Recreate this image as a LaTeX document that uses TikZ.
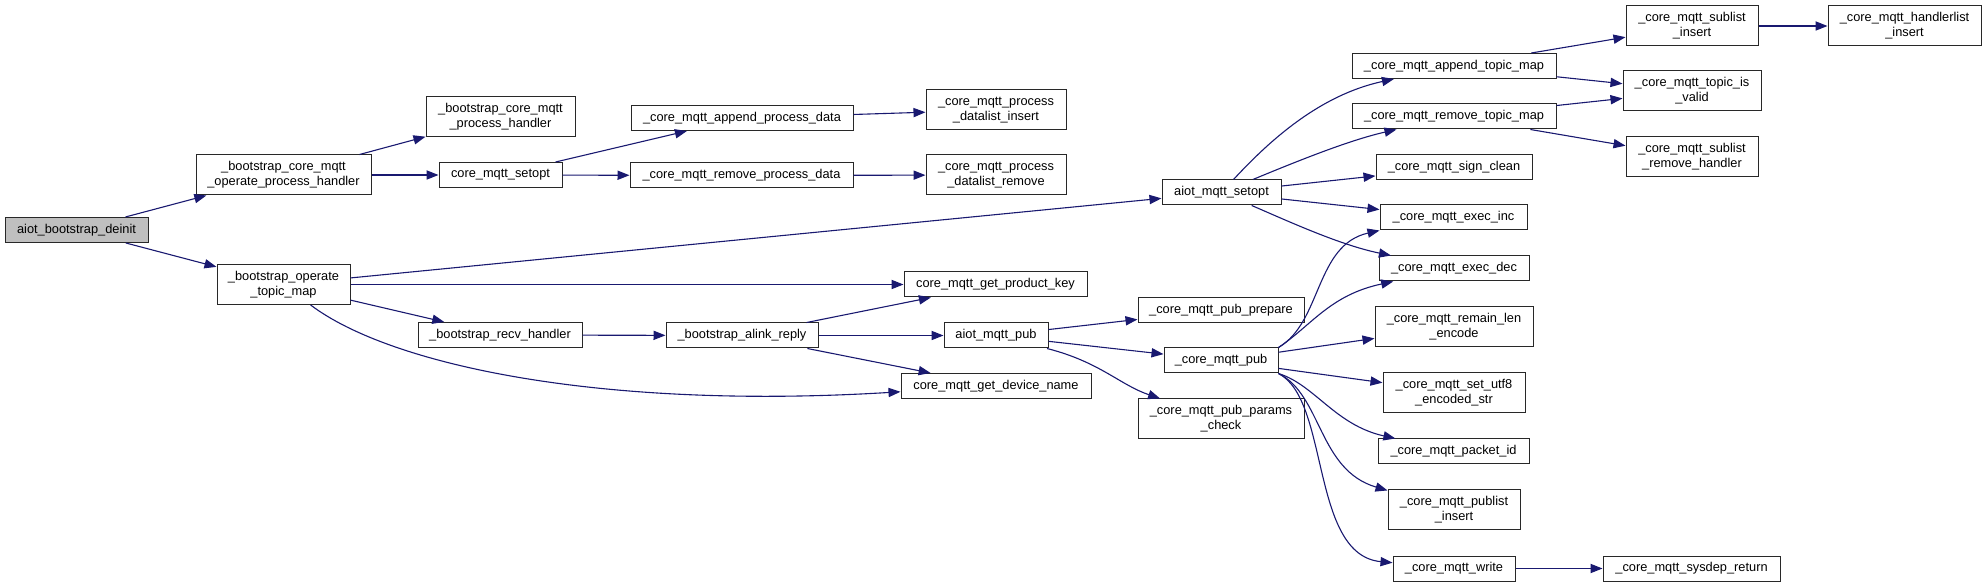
\documentclass[tikz,border=0pt]{standalone}
\usepackage{fontspec}
\setmainfont{Liberation Sans}
\usepackage{tikz}
\usetikzlibrary{arrows.meta, positioning}
\definecolor{edgeblue}{RGB}{25, 25, 112}
\definecolor{boxline}{RGB}{40, 40, 40}
\definecolor{rootgray}{RGB}{191, 191, 191}
\newcommand{\fnfont}{\fontsize{6.4}{7.5}\selectfont}

\begin{document}
\begin{tikzpicture}[x=0.5pt, y=-0.5pt,
    fnbox/.style={draw=boxline, fill=white, line width=0.5pt, inner sep=0pt,
        minimum height=12.5pt, font=\fnfont, align=center},
    fnboxtwo/.style={fnbox, minimum height=20pt},
    calledge/.style={draw=edgeblue, line width=0.55pt, -{Triangle[length=6pt, width=4.6pt]}}]
    \useasboundingbox (0, 0) rectangle (1987, 587);

    % Functions
    \node[fnbox, fill=rootgray, minimum width=71.5pt] (deinit) at (76.5, 230) {aiot\_bootstrap\_deinit};
    \node[fnboxtwo, minimum width=87.5pt] (ophandler) at (283.5, 175) {\_bootstrap\_core\_mqtt\\\_operate\_process\_handler};
    \node[fnboxtwo, minimum width=66.5pt] (optopic) at (283.5, 284.5) {\_bootstrap\_operate\\\_topic\_map};
    \node[fnboxtwo, minimum width=74.5pt] (bshandler) at (500.5, 116.5) {\_bootstrap\_core\_mqtt\\\_process\_handler};
    \node[fnbox, minimum width=61.5pt] (mqttsetopt) at (500.5, 175) {core\_mqtt\_setopt};
    \node[fnbox, minimum width=82pt] (recvhandler) at (500, 335) {\_bootstrap\_recv\_handler};
    \node[fnbox, minimum width=111pt] (appenddata) at (742, 118) {\_core\_mqtt\_append\_process\_data};
    \node[fnbox, minimum width=111.5pt] (removedata) at (741.5, 175.5) {\_core\_mqtt\_remove\_process\_data};
    \node[fnbox, minimum width=76pt] (alinkreply) at (742, 335.5) {\_bootstrap\_alink\_reply};
    \node[fnboxtwo, minimum width=70pt] (dlinsert) at (996, 110) {\_core\_mqtt\_process\\\_datalist\_insert};
    \node[fnboxtwo, minimum width=70pt] (dlremove) at (996, 175) {\_core\_mqtt\_process\\\_datalist\_remove};
    \node[fnbox, minimum width=91.5pt] (productkey) at (995.5, 284.5) {core\_mqtt\_get\_product\_key};
    \node[fnbox, minimum width=52pt] (aiotpub) at (996, 335.5) {aiot\_mqtt\_pub};
    \node[fnbox, minimum width=95pt] (devicename) at (996, 386) {core\_mqtt\_get\_device\_name};
    \node[fnbox, minimum width=59.5pt] (aiotsetopt) at (1221.5, 192.5) {aiot\_mqtt\_setopt};
    \node[fnbox, minimum width=83pt] (pubprepare) at (1221, 310) {\_core\_mqtt\_pub\_prepare};
    \node[fnbox, minimum width=57pt] (corepub) at (1221, 360.5) {\_core\_mqtt\_pub};
    \node[fnboxtwo, minimum width=83pt] (pubcheck) at (1221, 419) {\_core\_mqtt\_pub\_params\\\_check};
    \node[fnbox, minimum width=102pt] (appendtopic) at (1454, 66) {\_core\_mqtt\_append\_topic\_map};
    \node[fnbox, minimum width=102pt] (removetopic) at (1454, 116.5) {\_core\_mqtt\_remove\_topic\_map};
    \node[fnbox, minimum width=78pt] (signclean) at (1454, 167.5) {\_core\_mqtt\_sign\_clean};
    \node[fnbox, minimum width=73.5pt] (execinc) at (1453.5, 217.5) {\_core\_mqtt\_exec\_inc};
    \node[fnbox, minimum width=75pt] (execdec) at (1454, 268.5) {\_core\_mqtt\_exec\_dec};
    \node[fnboxtwo, minimum width=79pt] (remainlen) at (1454, 327) {\_core\_mqtt\_remain\_len\\\_encode};
    \node[fnboxtwo, minimum width=71pt] (setutf) at (1454, 392.5) {\_core\_mqtt\_set\_utf8\\\_encoded\_str};
    \node[fnbox, minimum width=75.5pt] (packetid) at (1453.5, 451.5) {\_core\_mqtt\_packet\_id};
    \node[fnboxtwo, minimum width=66pt] (publist) at (1454, 510) {\_core\_mqtt\_publist\\\_insert};
    \node[fnbox, minimum width=61pt] (mqttwrite) at (1454, 568.5) {\_core\_mqtt\_write};
    \node[fnbox, minimum width=88.5pt] (sysdep) at (1691.5, 568.5) {\_core\_mqtt\_sysdep\_return};
    \node[fnboxtwo, minimum width=66pt] (sublistinsert) at (1692, 26) {\_core\_mqtt\_sublist\\\_insert};
    \node[fnboxtwo, minimum width=76.5pt] (handlerinsert) at (1904.5, 26) {\_core\_mqtt\_handlerlist\\\_insert};
    \node[fnboxtwo, minimum width=69pt] (topicvalid) at (1692, 91) {\_core\_mqtt\_topic\_is\\\_valid};
    \node[fnboxtwo, minimum width=66pt] (sublistremove) at (1692, 157) {\_core\_mqtt\_sublist\\\_remove\_handler};

    % Calls, left part
    \draw[calledge] (deinit) -- (ophandler);
    \draw[calledge] (deinit) -- (optopic);
    \draw[calledge] (ophandler) -- (bshandler);
    \draw[calledge] (ophandler) -- (mqttsetopt);
    \draw[calledge] (mqttsetopt) -- (appenddata);
    \draw[calledge] (mqttsetopt) -- (removedata);
    \draw[calledge] (appenddata) -- (dlinsert);
    \draw[calledge] (removedata) -- (dlremove);
    \draw[calledge] (optopic) -- (aiotsetopt);
    \draw[calledge] (optopic) -- (productkey);
    \draw[calledge] (optopic) -- (recvhandler);
    \draw[calledge] (optopic) .. controls (390, 365) and (600, 410) .. (devicename);
    \draw[calledge] (recvhandler) -- (alinkreply);
    \draw[calledge] (alinkreply) -- (productkey);
    \draw[calledge] (alinkreply) -- (aiotpub);
    \draw[calledge] (alinkreply) -- (devicename);

    % Calls of aiot_mqtt_pub
    \draw[calledge] (aiotpub) -- (pubprepare);
    \draw[calledge] (aiotpub) -- (corepub);
    \draw[calledge] (aiotpub) .. controls (1100, 362) and (1120, 385) .. (pubcheck);

    % Calls of aiot_mqtt_setopt
    \draw[calledge] (aiotsetopt) .. controls (1270, 140) and (1320, 95) .. (appendtopic);
    \draw[calledge] (aiotsetopt) .. controls (1300, 160) and (1350, 140) .. (removetopic);
    \draw[calledge] (aiotsetopt) -- (signclean);
    \draw[calledge] (aiotsetopt) -- (execinc);
    \draw[calledge] (aiotsetopt) .. controls (1290, 222) and (1340, 245) .. (execdec);
    \draw[calledge] (appendtopic) -- (sublistinsert);
    \draw[calledge] (appendtopic) -- (topicvalid);
    \draw[calledge] (removetopic) -- (topicvalid);
    \draw[calledge] (removetopic) -- (sublistremove);
    \draw[calledge] (sublistinsert) -- (handlerinsert);

    % Calls of _core_mqtt_pub
    \draw[calledge] (corepub.north east) .. controls (1322, 322) and (1315, 245) .. (execinc.south west);
    \draw[calledge] (corepub.north east) .. controls (1312, 325) and (1330, 295) .. (execdec);
    \draw[calledge] (corepub) -- (remainlen);
    \draw[calledge] (corepub) -- (setutf);
    \draw[calledge] (corepub.south east) .. controls (1315, 385) and (1335, 425) .. (packetid);
    \draw[calledge] (corepub.south east) .. controls (1322, 395) and (1318, 470) .. (publist);
    \draw[calledge] (corepub.south east) .. controls (1330, 400) and (1310, 555) .. (mqttwrite);
    \draw[calledge] (mqttwrite) -- (sysdep);
\end{tikzpicture}
\end{document}
